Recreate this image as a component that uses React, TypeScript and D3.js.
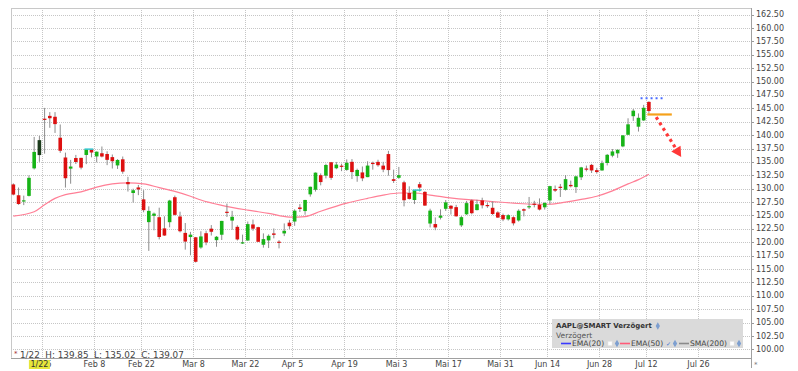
import { useEffect, useRef } from "react";
import * as d3 from "d3";

const WIDTH = 798;
const HEIGHT = 371;
const FRAME = { left: 11, top: 8, right: 751, bottom: 357.7 };
const FONT = "'DejaVu Sans', Verdana, sans-serif";

// daily candles, 2021
const dates = [
  "01-14", "01-15", "01-19", "01-20", "01-21", "01-22", "01-25", "01-26", "01-27", "01-28", "01-29",
  "02-01", "02-02", "02-03", "02-04", "02-05", "02-08", "02-09", "02-10", "02-11", "02-12", "02-16", "02-17", "02-18", "02-19", "02-22", "02-23", "02-24", "02-25", "02-26",
  "03-01", "03-02", "03-03", "03-04", "03-05", "03-08", "03-09", "03-10", "03-11", "03-12", "03-15", "03-16", "03-17", "03-18", "03-19", "03-22", "03-23", "03-24", "03-25", "03-26", "03-29", "03-30", "03-31", "04-01",
  "04-05", "04-06", "04-07", "04-08", "04-09", "04-12", "04-13", "04-14", "04-15", "04-16", "04-19", "04-20", "04-21", "04-22", "04-23", "04-26", "04-27", "04-28", "04-29", "04-30",
  "05-03", "05-04", "05-05", "05-06", "05-07", "05-10", "05-11", "05-12", "05-13", "05-14", "05-17", "05-18", "05-19", "05-20", "05-21", "05-24", "05-25", "05-26", "05-27", "05-28",
  "06-01", "06-02", "06-03", "06-04", "06-07", "06-08", "06-09", "06-10", "06-11", "06-14", "06-15", "06-16", "06-17", "06-18", "06-21", "06-22", "06-23", "06-24", "06-25",
  "06-28", "06-29", "06-30", "07-01", "07-02", "07-06", "07-07", "07-08", "07-09", "07-12",
];
const opens = [
  130.8, 128.78, 127.78, 128.66, 133.8, 136.28, 143.07, 143.6, 143.43, 139.52, 135.83,
  133.75, 135.73, 135.76, 136.3, 137.35, 136.03, 136.62, 136.48, 135.9, 134.35, 135.49, 131.25, 129.2, 130.24, 128.01, 123.76, 124.94, 124.68, 122.59,
  123.75, 128.41, 124.81, 121.75, 120.98, 120.93, 119.03, 121.69, 122.54, 120.4, 121.41, 125.7, 124.05, 122.88, 119.9, 120.33, 123.33, 122.82, 119.54, 120.35, 121.65, 120.11, 121.65, 123.66,
  123.87, 126.5, 125.83, 128.95, 129.8, 132.52, 132.44, 134.94, 133.82, 134.3, 133.51, 135.02, 132.36, 133.04, 132.16, 134.83, 135.01, 134.31, 136.47, 131.78,
  132.04, 131.19, 129.2, 127.89, 130.85, 129.41, 123.5, 123.4, 124.58, 126.25, 126.82, 126.56, 123.16, 125.23, 127.82, 126.01, 127.82, 126.96, 126.44, 125.57,
  125.08, 124.28, 124.68, 124.07, 126.17, 126.6, 127.21, 127.02, 126.53, 127.82, 129.94, 130.37, 129.8, 130.71, 130.3, 132.13, 133.77, 134.45, 133.46,
  133.41, 134.8, 136.17, 136.6, 137.9, 140.07, 143.54, 141.58, 142.75, 146.21,
];
const highs = [
  131.0, 130.22, 128.71, 132.49, 139.67, 139.85, 145.09, 144.3, 144.3, 141.99, 136.74,
  135.38, 136.31, 135.77, 137.4, 137.42, 136.96, 137.88, 136.99, 136.39, 135.53, 136.01, 132.22, 130.0, 130.71, 129.72, 126.71, 125.56, 126.46, 124.85,
  127.93, 128.72, 125.71, 123.6, 121.94, 121.0, 122.06, 122.17, 123.21, 121.17, 124.0, 127.22, 125.86, 123.18, 121.43, 123.87, 124.24, 122.9, 121.66, 121.48, 122.58, 120.4, 123.52, 124.18,
  126.16, 127.13, 127.92, 130.39, 133.04, 132.85, 134.66, 135.0, 135.0, 134.67, 135.47, 135.53, 133.75, 134.15, 135.12, 135.06, 135.41, 135.02, 137.07, 133.56,
  134.07, 131.49, 130.45, 129.75, 131.26, 129.54, 126.27, 124.64, 126.15, 127.89, 126.93, 126.99, 124.92, 127.72, 128.0, 127.94, 128.32, 127.39, 127.64, 125.8,
  125.35, 125.24, 124.85, 126.16, 126.32, 128.46, 127.75, 128.19, 127.44, 130.54, 130.6, 130.89, 132.55, 131.51, 132.41, 134.08, 134.32, 134.64, 133.89,
  135.25, 136.49, 137.41, 137.33, 140.0, 143.15, 144.89, 144.06, 145.65, 146.32,
];
const lows = [
  128.76, 127.0, 126.94, 128.55, 133.59, 135.02, 136.54, 141.37, 140.41, 136.7, 130.21,
  130.93, 134.61, 133.61, 134.59, 135.86, 134.92, 135.85, 134.4, 133.77, 133.69, 132.79, 129.47, 127.41, 128.8, 125.6, 118.39, 122.23, 120.54, 121.2,
  122.79, 125.01, 121.84, 118.62, 117.57, 116.21, 118.79, 119.45, 121.26, 119.16, 120.42, 124.72, 122.34, 120.32, 119.68, 120.26, 122.14, 120.07, 119.0, 118.92, 120.73, 118.86, 121.15, 122.49,
  123.07, 125.65, 125.14, 128.52, 129.47, 130.63, 131.93, 131.66, 133.64, 133.28, 133.34, 131.81, 131.3, 131.41, 132.16, 133.56, 134.11, 133.08, 132.45, 131.07,
  131.83, 126.7, 127.97, 127.13, 129.48, 126.81, 122.77, 122.25, 124.26, 125.85, 125.17, 124.78, 122.86, 125.1, 125.21, 125.94, 126.32, 126.42, 125.08, 124.55,
  123.94, 124.05, 123.13, 123.85, 124.83, 126.21, 126.52, 125.94, 126.1, 127.07, 129.39, 128.46, 129.65, 130.24, 129.21, 131.62, 133.23, 132.93, 132.81,
  133.35, 134.35, 135.87, 135.76, 137.75, 140.07, 142.66, 140.67, 142.65, 144.0,
];
const closes = [
  128.91, 127.14, 127.83, 132.03, 136.87, 139.07, 142.92, 143.16, 142.06, 137.09, 131.96,
  134.14, 134.99, 133.94, 137.39, 136.76, 136.91, 136.01, 135.39, 135.13, 135.37, 133.19, 130.84, 129.71, 129.87, 126.0, 125.86, 125.35, 120.99, 121.26,
  127.79, 125.12, 122.06, 120.13, 121.42, 116.36, 121.09, 119.98, 121.96, 121.03, 123.99, 125.57, 124.76, 120.53, 119.99, 123.39, 122.54, 120.09, 120.59, 121.21, 121.39, 119.9, 122.15, 123.0,
  125.9, 126.21, 127.9, 130.36, 133.0, 131.24, 134.43, 132.03, 134.5, 134.16, 134.84, 133.11, 133.5, 131.94, 134.32, 134.72, 134.39, 133.58, 133.48, 131.46,
  132.54, 127.85, 128.1, 129.74, 130.21, 126.85, 125.91, 122.77, 124.97, 127.45, 126.27, 124.85, 124.69, 127.31, 125.43, 127.1, 126.9, 126.85, 125.28, 124.61,
  124.28, 125.06, 123.54, 125.89, 125.9, 126.74, 127.13, 126.11, 127.35, 130.48, 129.64, 130.15, 131.79, 130.46, 132.3, 133.98, 133.7, 133.41, 133.11,
  134.78, 136.33, 136.96, 137.27, 139.96, 142.02, 144.57, 143.24, 145.11, 144.5,
];

// empty trading days to the right of the last candle
const futureDates = ["07-13", "07-14", "07-15", "07-16", "07-19", "07-20", "07-21", "07-22", "07-23", "07-26"];

const tickDates = ["01-25", "02-08", "02-22", "03-08", "03-22", "04-05", "04-19", "05-03", "05-17", "06-01", "06-14", "06-28", "07-12", "07-26"];
const tickLabels = ["1/25", "Feb 8", "Feb 22", "Mar 8", "Mar 22", "Apr 5", "Apr 19", "Mai 3", "Mai 17", "Mai 31", "Jun 14", "Jun 28", "Jul 12", "Jul 26"];

const priceTicks = d3.range(100, 162.51, 2.5);

// EMA(50)
const emaDates = [
  "01-14", "01-21", "01-25", "01-27", "01-29", "02-03", "02-08", "02-11", "02-17", "02-22", "02-25",
  "03-02", "03-05", "03-09", "03-15", "03-22", "03-26", "04-01", "04-07", "04-12", "04-19", "04-23", "04-28",
  "05-03", "05-06", "05-11", "05-14", "05-21", "05-26", "06-03", "06-09", "06-14", "06-17", "06-22", "06-25",
  "06-30", "07-06", "07-08", "07-12",
];
const emaValues = [
  124.9, 125.7, 127.0, 128.2, 128.9, 129.4, 130.3, 130.9, 131.1, 130.9, 130.2,
  129.5, 128.6, 127.9, 126.9, 126.0, 125.4, 124.7, 124.8, 125.8, 127.3, 128.2, 128.8,
  129.2, 129.2, 128.8, 128.4, 127.9, 127.7, 127.3, 127.1, 127.1, 127.5, 128.0, 128.6,
  129.6, 130.9, 131.7, 132.7,
];

const dividendDates = ["02-05", "05-07"];
const crosshairDate = "01-22";

// drawn annotations, in (day index, price)
const resistance = { from: 120.4, to: 125.2, price: 146.9 };
const support = { from: 121.7, to: 126.4, price: 143.86 };
const arrow = { from: [123.4, 143.36], to: [128.2, 135.9] };

const legendItems = ["EMA(20)", "EMA(50)", "SMA(200)"];
const legendColors = ["#3a3aff", "#ff5a78", "#8a8a8a"];
const legendChecked = [false, true, false];

export default function App() {
  const svgRef = useRef<SVGSVGElement>(null);

  useEffect(() => {
    const svg = d3.select(svgRef.current);
    svg.selectAll("*").remove();

    svg.append("rect").attr("width", WIDTH).attr("height", HEIGHT).attr("fill", "#ffffff");

    const allDays = [...dates, ...futureDates];
    const dayIndex = new Map(allDays.map((d, i) => [d, i]));

    const x = d3.scaleLinear().domain([-0.45, 141.6]).range([FRAME.left, FRAME.right]);
    const y = d3.scaleLinear().domain([98.45, 163.74]).range([FRAME.bottom, FRAME.top]);

    // horizontal grid + price labels
    priceTicks.forEach((p) => {
      const py = Math.round(y(p)) + 0.5;
      svg.append("line")
        .attr("x1", FRAME.left).attr("x2", FRAME.right)
        .attr("y1", py).attr("y2", py)
        .attr("stroke", "#c6c6c6").attr("stroke-dasharray", "1,1");
      svg.append("line")
        .attr("x1", FRAME.right).attr("x2", FRAME.right + 3)
        .attr("y1", py).attr("y2", py)
        .attr("stroke", "#999");
      svg.append("text")
        .attr("x", FRAME.right + 5).attr("y", y(p))
        .attr("dominant-baseline", "central")
        .attr("font-size", "8px").attr("font-family", FONT).attr("fill", "#444")
        .text(p.toFixed(2));
    });

    // vertical grid + date labels
    tickDates.forEach((d, i) => {
      const gx = Math.round(x((dayIndex.get(d) ?? 0) - 0.5)) + 0.5;
      svg.append("line")
        .attr("x1", gx).attr("x2", gx)
        .attr("y1", FRAME.top).attr("y2", FRAME.bottom)
        .attr("stroke", "#c6c6c6").attr("stroke-dasharray", "1,1");
      svg.append("text")
        .attr("x", gx).attr("y", 364.5)
        .attr("text-anchor", "middle").attr("dominant-baseline", "central")
        .attr("font-size", "8px").attr("font-family", FONT).attr("fill", "#444")
        .text(tickLabels[i]);
    });

    // frame
    svg.append("line").attr("x1", FRAME.left + 0.5).attr("x2", FRAME.left + 0.5)
      .attr("y1", FRAME.top).attr("y2", FRAME.bottom).attr("stroke", "#c8c8c8");
    svg.append("line").attr("x1", FRAME.left).attr("x2", FRAME.right)
      .attr("y1", FRAME.top + 0.5).attr("y2", FRAME.top + 0.5).attr("stroke", "#c8c8c8");
    svg.append("line").attr("x1", FRAME.left).attr("x2", FRAME.right)
      .attr("y1", Math.round(FRAME.bottom) + 0.5).attr("y2", Math.round(FRAME.bottom) + 0.5).attr("stroke", "#a0a0a0");
    svg.append("line").attr("x1", FRAME.right + 0.5).attr("x2", FRAME.right + 0.5)
      .attr("y1", FRAME.top).attr("y2", HEIGHT - 3).attr("stroke", "#a0a0a0");

    // EMA(50)
    const ema = d3.line<number>()
      .x((_, i) => x(dayIndex.get(emaDates[i]) ?? 0))
      .y((v) => y(v))
      .curve(d3.curveMonotoneX);
    svg.append("path")
      .attr("d", ema(emaValues))
      .attr("fill", "none").attr("stroke", "#ff7f96").attr("stroke-width", 1.2);

    // candles
    const bodyW = 3.6;
    dates.forEach((d, i) => {
      const cx = x(i);
      const up = closes[i] >= opens[i];
      svg.append("line")
        .attr("x1", cx).attr("x2", cx)
        .attr("y1", y(highs[i])).attr("y2", y(lows[i]))
        .attr("stroke", "#8c8c8c").attr("stroke-width", 1);
      const top = y(Math.max(opens[i], closes[i]));
      const h = Math.max(1.2, Math.abs(y(opens[i]) - y(closes[i])));
      svg.append("rect")
        .attr("x", cx - bodyW / 2).attr("y", top)
        .attr("width", bodyW).attr("height", h)
        .attr("fill", d === crosshairDate ? "#1b3a1b" : up ? "#17b417" : "#dd1010");
    });

    // ex-dividend markers
    dividendDates.forEach((d) => {
      const i = dayIndex.get(d) ?? 0;
      svg.append("line")
        .attr("x1", x(i - 1) - 1.8).attr("x2", x(i) + 1.8)
        .attr("y1", y(closes[i - 1])).attr("y2", y(closes[i - 1]))
        .attr("stroke", "#35c8d2").attr("stroke-width", 1.5);
    });

    // drawn annotations
    svg.append("line")
      .attr("x1", x(resistance.from)).attr("x2", x(resistance.to))
      .attr("y1", y(resistance.price)).attr("y2", y(resistance.price))
      .attr("stroke", "#4a6cff").attr("stroke-width", 2).attr("stroke-dasharray", "2,3");
    svg.append("line")
      .attr("x1", x(support.from)).attr("x2", x(support.to))
      .attr("y1", y(support.price)).attr("y2", y(support.price))
      .attr("stroke", "#f5a11a").attr("stroke-width", 2.2);

    const ax0 = x(arrow.from[0]), ay0 = y(arrow.from[1]);
    const ax1 = x(arrow.to[0]), ay1 = y(arrow.to[1]);
    const len = Math.hypot(ax1 - ax0, ay1 - ay0);
    const ux = (ax1 - ax0) / len, uy = (ay1 - ay0) / len;
    const headLen = 10, headHalf = 5.5;
    const bx = ax1 - ux * headLen, by = ay1 - uy * headLen;
    svg.append("line")
      .attr("x1", ax0).attr("y1", ay0).attr("x2", bx).attr("y2", by)
      .attr("stroke", "#ff3838").attr("stroke-width", 3.2).attr("stroke-dasharray", "3,3.5");
    svg.append("polygon")
      .attr("points", [
        [ax1, ay1],
        [bx - uy * headHalf, by + ux * headHalf],
        [bx + uy * headHalf, by - ux * headHalf],
      ].map((p) => p.join(",")).join(" "))
      .attr("fill", "#ff3838");

    // crosshair info line
    const ci = dayIndex.get(crosshairDate) ?? 0;
    const [mm, dd] = crosshairDate.split("-").map(Number);
    const hoverLabel = `${mm}/${dd}`;
    svg.append("text")
      .attr("x", 14).attr("y", 356)
      .attr("font-size", "7px").attr("font-family", FONT).attr("fill", "#a03030")
      .text("*");
    svg.append("text")
      .attr("x", 20).attr("y", 354.5)
      .attr("dominant-baseline", "central")
      .attr("xml:space", "preserve")
      .style("white-space", "pre")
      .attr("font-size", "8.8px").attr("font-family", FONT).attr("fill", "#444")
      .text(`${hoverLabel}  H: ${highs[ci].toFixed(2)}  L: ${lows[ci].toFixed(2)}  C: ${closes[ci].toFixed(2)}`);

    const hx = x(ci);
    svg.append("rect")
      .attr("x", hx - 10.5).attr("y", 360).attr("width", 21).attr("height", 9)
      .attr("fill", "#e6e63a");
    svg.append("text")
      .attr("x", hx).attr("y", 364.5)
      .attr("text-anchor", "middle").attr("dominant-baseline", "central")
      .attr("font-size", "8px").attr("font-family", FONT).attr("fill", "#333")
      .text(hoverLabel);

    svg.append("text")
      .attr("x", FRAME.right + 3).attr("y", 367)
      .attr("font-size", "7px").attr("font-family", FONT).attr("fill", "#777")
      .text("*");

    // legend box
    const lg = svg.append("g").attr("transform", "translate(552,319)");
    lg.append("rect").attr("width", 191).attr("height", 29).attr("fill", "#dadada");
    const title = lg.append("text")
      .attr("x", 4).attr("y", 7).attr("dominant-baseline", "central")
      .attr("font-size", "7px").attr("font-weight", "bold").attr("font-family", FONT).attr("fill", "#333")
      .text("AAPL@SMART Verzögert");
    lg.append("text")
      .attr("x", 4).attr("y", 16).attr("dominant-baseline", "central")
      .attr("font-size", "7.5px").attr("font-family", FONT).attr("fill", "#555")
      .text("Verzögert");

    const diamond = (cx: number, cy: number) =>
      lg.append("path")
        .attr("transform", `translate(${cx},${cy})`)
        .attr("d", d3.symbol().type(d3.symbolDiamond).size(16)() ?? "")
        .attr("fill", "#7d9fd0");
    const box = (cx: number, cy: number) =>
      lg.append("rect")
        .attr("x", cx - 2).attr("y", cy - 2).attr("width", 4).attr("height", 4)
        .attr("fill", "#ffffff").attr("stroke", "#e8e8e8").attr("stroke-width", 0.5);

    const titleW = (title.node() as SVGTextElement).getComputedTextLength();
    diamond(4 + titleW + 6, 7);

    // fixed slots for the three indicator entries
    const ry = 24.5;
    const slotStart = [9, 68, 127];
    const slotToggle = [58, 116, 180];
    legendItems.forEach((label, i) => {
      const sx = slotStart[i];
      lg.append("line")
        .attr("x1", sx).attr("x2", sx + 10).attr("y1", ry).attr("y2", ry)
        .attr("stroke", legendColors[i]).attr("stroke-width", 1.6);
      lg.append("text")
        .attr("x", sx + 11).attr("y", ry).attr("dominant-baseline", "central")
        .attr("font-size", "7.6px").attr("font-family", FONT).attr("fill", "#444")
        .text(label);
      const ex = slotToggle[i];
      if (legendChecked[i]) {
        lg.append("text")
          .attr("x", ex - 2).attr("y", ry).attr("dominant-baseline", "central")
          .attr("font-size", "6px").attr("font-family", FONT).attr("fill", "#3a6fd0")
          .text("✓");
      } else {
        box(ex, ry);
      }
      diamond(ex + 7, ry);
    });
  }, []);

  return (
    <svg
      ref={svgRef}
      width={WIDTH}
      height={HEIGHT}
      style={{ position: "absolute", left: 0, top: 0, display: "block" }}
    />
  );
}
